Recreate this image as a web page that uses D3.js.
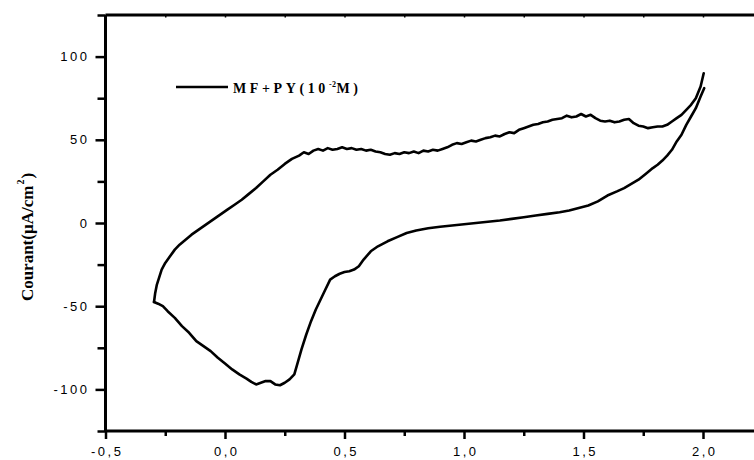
<!DOCTYPE html>
<html>
<head>
<meta charset="utf-8">
<script src="https://cdn.jsdelivr.net/npm/d3@7"></script>
<style>
  html, body { margin: 0; padding: 0; background: #fff; }
  svg { display: block; }
</style>
</head>
<body>
<svg id="chart" width="754" height="460"></svg>
<script>
// Cyclic voltammogram: potential (V) vs current density (µA/cm²)

// Forward (anodic) scan
const potentialForward = [
  -0.297, -0.292, -0.285, -0.276, -0.265, -0.25, -0.23, -0.21, -0.19, -0.165,
  -0.14, -0.11, -0.08, -0.05, -0.02, 0.01, 0.04, 0.07, 0.10, 0.13,
  0.16, 0.19, 0.22, 0.25, 0.28, 0.31, 0.33, 0.35, 0.37, 0.39,
  0.41, 0.43, 0.45, 0.47, 0.49, 0.51, 0.53, 0.55, 0.57, 0.59,
  0.61, 0.63, 0.65, 0.67, 0.69, 0.71, 0.73, 0.75, 0.77, 0.79,
  0.81, 0.83, 0.85, 0.87, 0.89, 0.91, 0.93, 0.95, 0.97, 0.99,
  1.01, 1.03, 1.05, 1.07, 1.09, 1.11, 1.13, 1.15, 1.17, 1.19,
  1.21, 1.23, 1.25, 1.27, 1.29, 1.31, 1.33, 1.35, 1.37, 1.39,
  1.41, 1.43, 1.45, 1.47, 1.49, 1.51, 1.53, 1.55, 1.57, 1.59,
  1.61, 1.63, 1.65, 1.67, 1.69, 1.71, 1.73, 1.75, 1.77, 1.79,
  1.81, 1.83, 1.85, 1.87, 1.89, 1.91, 1.93, 1.95, 1.97, 1.99, 2.003
];
const currentForward = [
  -47.5, -42, -37, -33, -28, -24, -20, -16, -13, -10,
  -7, -4, -1, 2, 5, 8, 11, 14, 17.5, 21,
  25, 29, 32, 35.5, 38.5, 40.5, 42.5, 41.5, 43.5, 44.5,
  43.5, 45, 44, 44.5, 45.5, 44.5, 45, 44, 44.5, 43.5,
  44, 43, 42.5, 41.5, 41, 42, 41.5, 42.5, 42, 43,
  42, 43.5, 43, 44, 43.5, 44.5, 45.5, 47, 48, 47.5,
  48.5, 49.5, 49, 50, 51, 51.5, 52.5, 52, 53.5, 54.5,
  54, 56, 57, 58, 59, 59.5, 60.5, 61, 62, 62.5,
  63, 64.5, 63.5, 64, 65.5, 64, 65, 63, 61.5, 61,
  61.5, 60.5, 61, 62, 62.5, 60, 58.5, 58, 57, 57.5,
  58, 58, 59, 61, 63, 65, 68, 71, 75, 82, 90
];

// Reverse (cathodic) scan
const potentialReverse = [
  2.005, 1.99, 1.97, 1.95, 1.93, 1.91, 1.89, 1.87, 1.85, 1.83,
  1.81, 1.79, 1.76, 1.73, 1.70, 1.67, 1.64, 1.60, 1.56, 1.52,
  1.48, 1.44, 1.40, 1.35, 1.30, 1.25, 1.20, 1.15, 1.10, 1.05,
  1.00, 0.95, 0.90, 0.85, 0.80, 0.76, 0.72, 0.68, 0.64, 0.61,
  0.58, 0.56, 0.54, 0.52, 0.50, 0.48, 0.46, 0.44, 0.42, 0.40,
  0.38, 0.36, 0.34, 0.32, 0.30, 0.29, 0.27, 0.25, 0.23, 0.21,
  0.19, 0.17, 0.15, 0.13, 0.11, 0.09, 0.06, 0.03, 0.00, -0.03,
  -0.06, -0.09, -0.12, -0.15, -0.18, -0.21, -0.24, -0.26, -0.28, -0.297
];
const currentReverse = [
  81, 76, 69, 64, 59, 53, 49, 44, 40.5, 37.5,
  35, 33, 29.5, 26, 23.5, 21, 19, 16.5, 13, 10.5,
  9, 7.5, 6.5, 5.5, 4.5, 3.5, 2.5, 1.5, 0.8, 0,
  -0.8, -1.5, -2.3, -3.2, -4.5, -6, -8.5, -11, -14, -17,
  -22, -26, -28, -29, -29.5, -30.5, -32, -34, -40, -46,
  -52, -59, -67, -76, -86, -91, -94, -96, -97.5, -97,
  -95, -95, -96, -97, -95.5, -93.5, -91, -88, -84.5, -81,
  -77, -74, -71, -66, -62, -57, -53, -50, -48.5, -47.5
];

// Axis ticks
const xMajorTicks = [-0.5, 0.0, 0.5, 1.0, 1.5, 2.0];
const xMinorTicks = [-0.25, 0.25, 0.75, 1.25, 1.75];
const yMajorTicks = [-100, -50, 0, 50, 100];
const yMinorTicks = [-125, -75, -25, 25, 75, 125];

const legendMain = "MF+PY(10";
const legendSup = "-2";
const legendTail = "M)";
const yTitleMain = "Courant(µA/cm";
const yTitleSup = "2";
const yTitleTail = ")";

const svg = d3.select("#chart");
svg.append("rect").attr("width", 754).attr("height", 460).attr("fill", "#fff");

const x = d3.scaleLinear().domain([-0.5, 2.0]).range([105.5, 703]);
const y = d3.scaleLinear().domain([-125, 125]).range([431, 15]);
const frameRight = 760;

const loc = d3.formatLocale({ decimal: ",", thousands: ".", grouping: [3], currency: ["", ""], minus: "-" });
const fmtX = loc.format(".1f");
const fmtY = loc.format("d");

const tickFont = "'Liberation Sans', Arial, sans-serif";

// Curve
const line = d3.line()
  .x(d => x(d[0]))
  .y(d => y(d[1]))
  .curve(d3.curveLinear);

const forward = potentialForward.map((p, i) => [p, currentForward[i]]);
const reverse = potentialReverse.map((p, i) => [p, currentReverse[i]]);

const plot = svg.append("g");
[forward, reverse].forEach(scan => {
  plot.append("path")
    .datum(scan)
    .attr("d", line)
    .attr("fill", "none")
    .attr("stroke", "#000")
    .attr("stroke-width", 2.6)
    .attr("stroke-linejoin", "round")
    .attr("stroke-linecap", "round");
});

// Bottom axis: major ticks
const gxMajor = svg.append("g")
  .attr("transform", `translate(0,${y(-125)})`)
  .call(d3.axisBottom(x).tickValues(xMajorTicks).tickSize(8).tickSizeOuter(0).tickFormat(fmtX));
gxMajor.select(".domain").remove();
gxMajor.selectAll(".tick line").attr("stroke", "#000").attr("stroke-width", 2.5);
gxMajor.selectAll(".tick text")
  .attr("font-family", tickFont)
  .attr("font-size", 13)
  .attr("letter-spacing", "2.5px")
  .attr("fill", "#000")
  .attr("dx", "1.2px")
  .attr("y", 16)
  .attr("dy", "0.71em");

// Bottom axis: minor ticks
const gxMinor = svg.append("g")
  .attr("transform", `translate(0,${y(-125)})`)
  .call(d3.axisBottom(x).tickValues(xMinorTicks).tickSize(5).tickSizeOuter(0).tickFormat(""));
gxMinor.select(".domain").remove();
gxMinor.selectAll(".tick line").attr("stroke", "#000").attr("stroke-width", 2.5);

// Top axis: small inward marks
const gTop = svg.append("g")
  .attr("transform", `translate(0,${y(125)})`)
  .call(d3.axisBottom(x).tickValues(xMajorTicks.concat(xMinorTicks)).tickSize(2.5).tickSizeOuter(0).tickFormat(""));
gTop.select(".domain").remove();
gTop.selectAll(".tick line").attr("stroke", "#000").attr("stroke-width", 1.5);

// Left axis: major ticks
const gyMajor = svg.append("g")
  .attr("transform", `translate(${x(-0.5)},0)`)
  .call(d3.axisLeft(y).tickValues(yMajorTicks).tickSize(10).tickSizeOuter(0).tickFormat(fmtY));
gyMajor.select(".domain").remove();
gyMajor.selectAll(".tick line").attr("stroke", "#000").attr("stroke-width", 2.5);
gyMajor.selectAll(".tick text")
  .attr("font-family", tickFont)
  .attr("font-size", 13)
  .attr("letter-spacing", "2.5px")
  .attr("fill", "#000")
  .attr("x", -16);

// Left axis: minor ticks
const gyMinor = svg.append("g")
  .attr("transform", `translate(${x(-0.5)},0)`)
  .call(d3.axisLeft(y).tickValues(yMinorTicks).tickSize(8).tickSizeOuter(0).tickFormat(""));
gyMinor.select(".domain").remove();
gyMinor.selectAll(".tick line").attr("stroke", "#000").attr("stroke-width", 2.5);

// Frame lines (left, bottom, top)
const frame = svg.append("g").attr("stroke", "#000").attr("stroke-width", 3).attr("fill", "none");
frame.append("line").attr("x1", x(-0.5)).attr("x2", x(-0.5)).attr("y1", y(125)).attr("y2", y(-125));
frame.append("line").attr("x1", x(-0.5)).attr("x2", frameRight).attr("y1", y(-125)).attr("y2", y(-125));
frame.append("line").attr("x1", x(-0.5)).attr("x2", frameRight).attr("y1", y(125)).attr("y2", y(125));

// Y axis title
const yTitle = svg.append("text")
  .attr("transform", `translate(33,${(y(125) + y(-125)) / 2 + 14}) rotate(-90)`)
  .attr("text-anchor", "middle")
  .attr("font-family", "'Liberation Serif', 'Times New Roman', serif")
  .attr("font-weight", "bold")
  .attr("font-size", 17)
  .attr("fill", "#000");
yTitle.append("tspan").text(yTitleMain);
yTitle.append("tspan").attr("font-size", 10).attr("dy", -9).attr("dx", 1).text(yTitleSup);
yTitle.append("tspan").attr("dy", 9).attr("dx", 1).text(yTitleTail);

// Legend
const legend = svg.append("g");
legend.append("line")
  .attr("x1", 176).attr("x2", 228).attr("y1", 87).attr("y2", 87)
  .attr("stroke", "#000").attr("stroke-width", 2.6);
const legText = legend.append("text")
  .attr("x", 233).attr("y", 93)
  .attr("font-family", "'Liberation Serif', 'Times New Roman', serif")
  .attr("font-weight", "bold")
  .attr("font-size", 14)
  .attr("letter-spacing", "3.6px")
  .attr("fill", "#000");
legText.append("tspan").text(legendMain);
legText.append("tspan").attr("font-size", 8).attr("dy", -6).attr("letter-spacing", "0.5px").text(legendSup);
legText.append("tspan").attr("dy", 6).text(legendTail);
</script>
</body>
</html>
